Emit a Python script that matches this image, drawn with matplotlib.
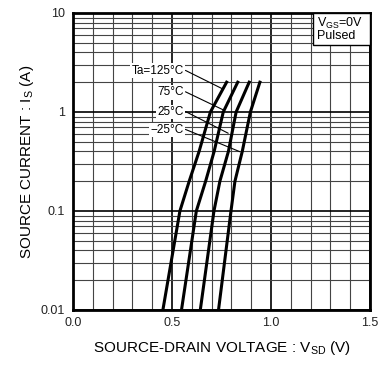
import numpy as np
import matplotlib.pyplot as plt
from matplotlib.ticker import FixedLocator, LogLocator, NullFormatter
from matplotlib.patches import Rectangle

plt.rcParams['font.family'] = ['Liberation Sans', 'DejaVu Sans']
plt.rcParams['mathtext.fontset'] = 'custom'
plt.rcParams['mathtext.rm'] = 'Liberation Sans'
plt.rcParams['mathtext.it'] = 'Liberation Sans'

# Source current (A) and forward voltage (V) for each ambient temperature
current = [0.01, 0.1, 0.2, 0.4, 1.0, 2.0]
vsd_125 = [0.454, 0.540, 0.587, 0.637, 0.694, 0.776]
vsd_75 = [0.548, 0.623, 0.670, 0.713, 0.759, 0.832]
vsd_25 = [0.643, 0.712, 0.742, 0.785, 0.824, 0.890]
vsd_m25 = [0.735, 0.798, 0.818, 0.855, 0.896, 0.944]

labels = ["Ta=125°C", "75°C", "25°C", "\u221225°C"]
label_pos = [(0.561, 2.6), (0.561, 1.58), (0.561, 1.0), (0.561, 0.657)]
leader_end = [(0.751, 1.73), (0.759, 1.05), (0.784, 0.61), (0.843, 0.397)]

fig = plt.figure(figsize=(3.87, 3.69), dpi=100)
ax = fig.add_axes([0.1886, 0.1599, 0.7674, 0.8049])

for v in [vsd_125, vsd_75, vsd_25, vsd_m25]:
    ax.plot(v, current, color='black', lw=2.2, zorder=3)

ax.set_xlim(0, 1.5)
ax.set_yscale('log')
ax.set_ylim(0.01, 10)

ax.xaxis.set_major_locator(FixedLocator([0.0, 0.5, 1.0, 1.5]))
ax.xaxis.set_minor_locator(FixedLocator(np.arange(0.1, 1.5, 0.1)))
ax.set_xticklabels(["0.0", "0.5", "1.0", "1.5"])
ax.yaxis.set_major_locator(FixedLocator([0.01, 0.1, 1, 10]))
ax.yaxis.set_minor_locator(LogLocator(base=10, subs=np.arange(2, 10)))
ax.yaxis.set_minor_formatter(NullFormatter())
ax.set_yticklabels(["0.01", "0.1", "1", "10"])

ax.grid(which='major', color='black', lw=1.2)
ax.grid(which='minor', color='#444444', lw=0.8)
ax.tick_params(which='both', length=0, labelsize=9, colors='#222222')
ax.tick_params(axis='x', pad=5)
ax.tick_params(axis='y', pad=6)
for s in ax.spines.values():
    s.set_linewidth(2)

for text, (tx, ty), (ex, ey) in zip(labels, label_pos, leader_end):
    ax.annotate(text, xy=(ex, ey), xytext=(tx, ty), ha='right', va='center',
                fontsize=8.5, zorder=5,
                bbox=dict(fc='white', ec='none', pad=1),
                arrowprops=dict(arrowstyle='-', color='black', lw=0.8,
                                shrinkA=0, shrinkB=0, relpos=(1, 0.6)))

# condition box in the upper right corner
ax.add_patch(Rectangle((0.807, 0.892), 0.193, 0.108, transform=ax.transAxes,
                       fc='white', ec='black', lw=1, zorder=4, clip_on=False))
ax.text(0.822, 0.965, r"V$_{\mathregular{GS}}$=0V", transform=ax.transAxes,
        fontsize=9, va='center', ha='left', zorder=5)
ax.text(0.822, 0.921, "Pulsed", transform=ax.transAxes,
        fontsize=9, va='center', ha='left', zorder=5)

ax.set_xlabel(r"SOURCE-DRAIN VOLTAGE : V$_{\mathregular{SD}}$ (V)", fontsize=11,
              labelpad=7)
ax.set_ylabel(r"SOURCE CURRENT : I$_{\mathregular{S}}$ (A)", fontsize=11,
              labelpad=3)

fig.savefig("out.png", dpi=100)
